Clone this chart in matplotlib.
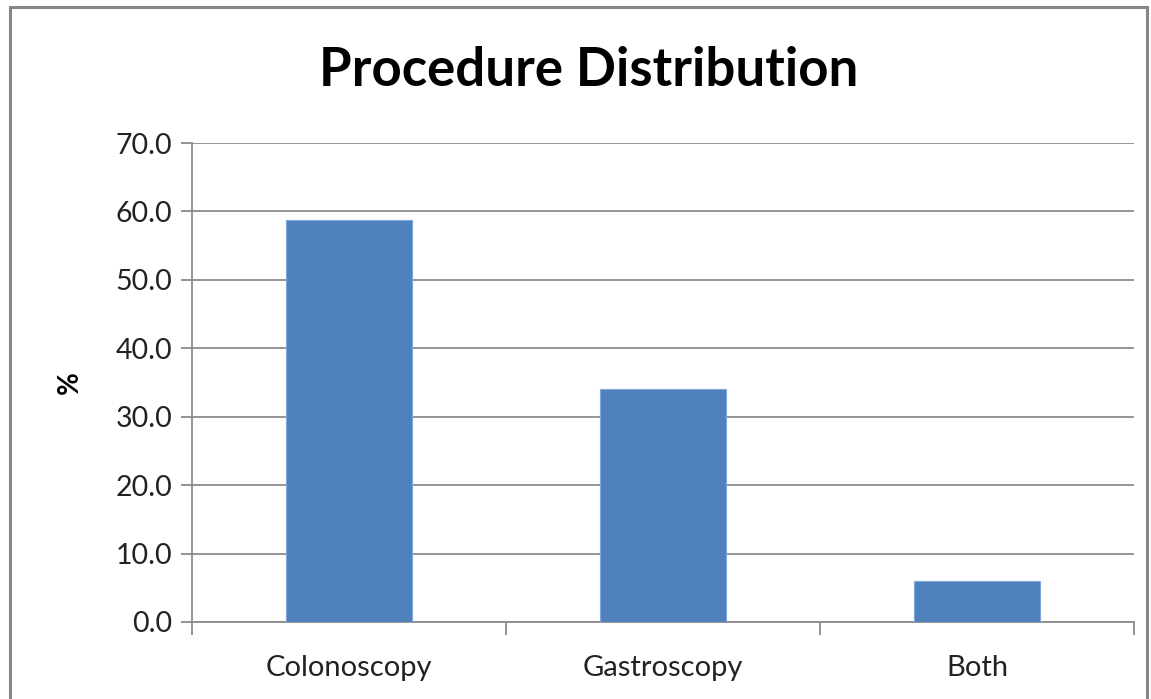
import numpy as np
import matplotlib
matplotlib.use("Agg")
from matplotlib import pyplot as plt
from matplotlib.patches import Rectangle

categories = ["Colonoscopy", "Gastroscopy", "Both"]
percent = [58.7, 34.0, 6.0]
yticks = [0, 10, 20, 30, 40, 50, 60, 70]

plt.rcParams['font.family'] = ['Lato', 'DejaVu Sans']

fig = plt.figure(figsize=(11.51, 6.99), dpi=100)
W, H = 1151, 699
# outer chart border
fig.patches.append(Rectangle((10 / W, -0.05), 1137 / W, 1.05 - 7 / H,
                             transform=fig.transFigure, fill=False,
                             edgecolor="#868686", linewidth=2.2))

ax = fig.add_axes([192 / W, 1 - 622 / H, (1134 - 192) / W, (622 - 143) / H])
x = np.arange(len(categories))
ax.bar(x, percent, width=0.4, color="#4f81bd", edgecolor="#7fa6d6", linewidth=0.8, zorder=3)

ax.set_xlim(-0.5, len(categories) - 0.5)
ax.set_ylim(0, 70)
ax.set_yticks(yticks)
ax.set_yticklabels([f"{v:.1f}" for v in yticks], fontsize=20.5, color="#222222")
ax.yaxis.grid(True, color="#8c8c8c", linewidth=1.3, zorder=0)
ax.tick_params(axis="y", length=8, width=1.3, color="#8c8c8c", pad=6)

ax.set_xticks(x)
ax.set_xticklabels(categories, fontsize=21, color="#222222")
ax.tick_params(axis="x", length=0, pad=24)
# boundary ticks between categories
ax.set_xticks(np.arange(len(categories) + 1) - 0.5, minor=True)
ax.tick_params(axis="x", which="minor", length=9, width=1.3, color="#8c8c8c")

for side in ["top", "right"]:
    ax.spines[side].set_visible(False)
for side in ["left", "bottom"]:
    ax.spines[side].set_color("#8c8c8c")
    ax.spines[side].set_linewidth(1.3)

ax.set_ylabel("%", fontsize=20, fontweight="bold", labelpad=24)
fig.text(589 / W, 1 - 71 / H, "Procedure Distribution", ha="center", va="center",
         fontsize=38, fontweight="bold")

fig.savefig("out.png", dpi=100)
